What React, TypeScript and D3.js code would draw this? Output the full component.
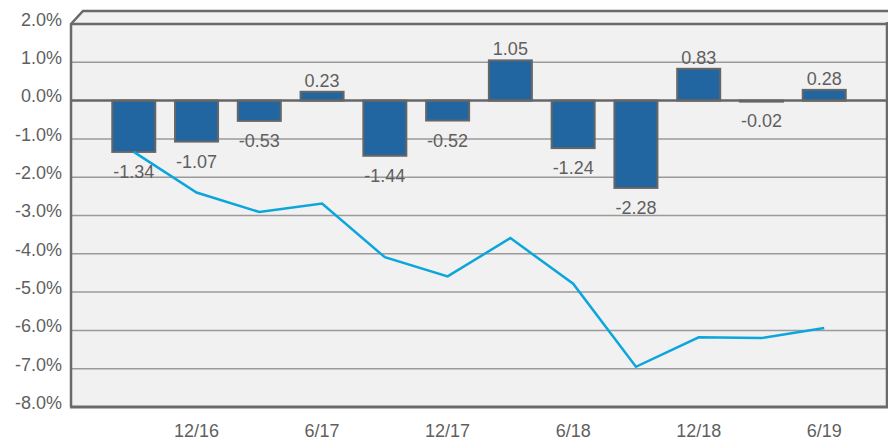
import React from "react";
import * as d3 from "d3";

const categories = ["9/16", "12/16", "3/17", "6/17", "9/17", "12/17", "3/18", "6/18", "9/18", "12/18", "3/19", "6/19"];
const barValues = [-1.34, -1.07, -0.53, 0.23, -1.44, -0.52, 1.05, -1.24, -2.28, 0.83, -0.02, 0.28];
const lineValues = [-1.34, -2.40, -2.91, -2.69, -4.09, -4.59, -3.59, -4.78, -6.95, -6.18, -6.20, -5.94];
const yTicks = [2, 1, 0, -1, -2, -3, -4, -5, -6, -7, -8];
const xTickLabels = ["12/16", "6/17", "12/17", "6/18", "12/18", "6/19"];

const W = 888;
const H = 437;
const left = 71;
const right = 887;
const top = 24;
const bottom = 407;
const depthX = 12;
const depthY = 13;

export default function App() {
  const y = d3.scaleLinear().domain([-8, 2]).range([bottom, top]);
  const x = d3.scaleLinear().domain([0, categories.length + 1]).range([left, right]);
  const bw = 43;
  const font = "'Liberation Sans', Arial, Helvetica, sans-serif";
  const line = d3
    .line<number>()
    .x((_, i) => x(i + 1))
    .y((d) => y(d));

  return (
    <svg
      width={W}
      height={H}
      style={{ position: "absolute", left: 0, top: 0, background: "#fff" }}
      fontFamily={font}
    >
      {/* top face */}
      <path
        d={`M${left},${top} L${left + depthX},${top - depthY} L${right + 2},${top - depthY} L${right + 2},${top} Z`}
        fill="#f1f1f1"
      />
      {/* plot background */}
      <rect x={left} y={top} width={right - left} height={bottom - top} fill="#f1f1f1" />
      {/* gridlines */}
      {yTicks
        .filter((t) => t !== 2 && t !== -8 && t !== 0)
        .map((t) => (
          <line key={t} x1={left} x2={right} y1={y(t)} y2={y(t)} stroke="#9a9a9a" strokeWidth={1.5} />
        ))}
      {/* bars */}
      {barValues.map((v, i) => {
        const cx = x(i + 1);
        const y0 = y(0);
        const y1 = y(v);
        return (
          <rect
            key={i}
            x={cx - bw / 2}
            y={Math.min(y0, y1)}
            width={bw}
            height={Math.max(Math.abs(y1 - y0), 1)}
            fill="#2166a1"
            stroke="#666"
            strokeWidth={2}
          />
        );
      })}
      {/* zero line */}
      <line x1={left} x2={right} y1={y(0)} y2={y(0)} stroke="#666" strokeWidth={2.5} />
      {/* frame */}
      <path
        d={`M${left},${bottom} L${left},${top} L${left + depthX},${top - depthY} L${right + 2},${top - depthY}`}
        fill="none"
        stroke="#6a6a6a"
        strokeWidth={2.5}
      />
      <line x1={left} x2={right + 2} y1={top} y2={top} stroke="#6a6a6a" strokeWidth={2.5} />
      <line x1={right} x2={right} y1={top - 2} y2={bottom} stroke="#6a6a6a" strokeWidth={2.5} />
      <line x1={left - 1} x2={right + 2} y1={bottom} y2={bottom} stroke="#6a6a6a" strokeWidth={3} />
      {/* line */}
      <path d={line(lineValues) || ""} fill="none" stroke="#0aa6dc" strokeWidth={2.5} strokeLinejoin="miter" />
      {/* bar labels */}
      {barValues.map((v, i) => {
        const cx = x(i + 1);
        const ly = v >= 0 ? y(v) - 5 : y(v) + 26;
        return (
          <text key={i} x={cx} y={ly} textAnchor="middle" fontSize={18} fill="#5f5f5f">
            {v.toFixed(2)}
          </text>
        );
      })}
      {/* y axis labels */}
      {yTicks.map((t) => (
        <text key={t} x={62} y={y(t) + 1.8} textAnchor="end" fontSize={18} fill="#5f5f5f">
          {t.toFixed(1) + "%"}
        </text>
      ))}
      {/* x axis labels */}
      {xTickLabels.map((lab) => {
        const i = categories.indexOf(lab);
        return (
          <text key={lab} x={x(i + 1)} y={437} textAnchor="middle" fontSize={18} fill="#5f5f5f">
            {lab}
          </text>
        );
      })}
    </svg>
  );
}
